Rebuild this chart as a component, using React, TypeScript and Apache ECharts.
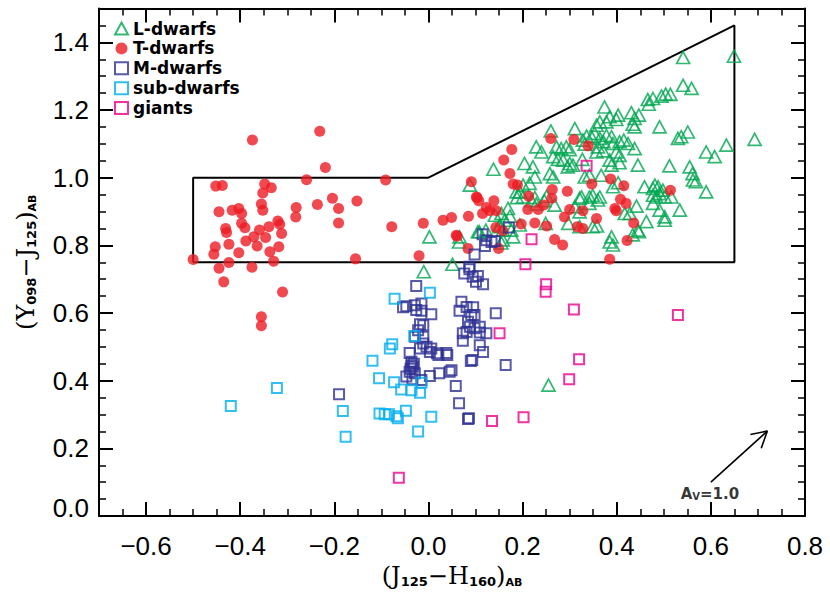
import React, { useEffect, useRef } from 'react';
import * as echarts from 'echarts';

// ---- data (J125-H160, Y098-J125) ----
const lDwarfs: number[][] = [
  [0.541,1.355],[0.649,1.359],[0.541,1.273],[0.559,1.264],
  [0.466,1.231],[0.477,1.234],[0.495,1.241],[0.504,1.247],[0.514,1.246],[0.468,1.217],
  [0.374,1.209],[0.385,1.180],[0.403,1.185],[0.399,1.172],[0.378,1.165],
  [0.431,1.192],[0.438,1.175],[0.447,1.185],[0.434,1.158],[0.438,1.150],
  [0.364,1.165],[0.357,1.155],[0.491,1.150],
  [0.537,1.121],[0.551,1.135],[0.530,1.116],
  [0.633,1.096],[0.693,1.113],[0.590,1.076],[0.608,1.062],
  [0.260,1.138],[0.311,1.145],[0.336,1.123],[0.346,1.121],[0.353,1.131],[0.328,1.111],[0.332,1.099],
  [0.364,1.116],[0.372,1.106],[0.389,1.121],[0.392,1.101],[0.378,1.125],
  [0.406,1.106],[0.415,1.111],[0.424,1.101],[0.438,1.086],
  [0.229,1.091],[0.240,1.076],[0.272,1.091],[0.282,1.086],[0.293,1.091],[0.300,1.083],
  [0.360,1.091],[0.371,1.079],[0.357,1.076],[0.399,1.076],[0.406,1.066],
  [0.204,1.042],[0.222,1.032],[0.265,1.062],[0.275,1.054],
  [0.286,1.052],[0.300,1.042],[0.296,1.032],[0.307,1.037],[0.327,1.054],
  [0.385,1.052],[0.406,1.044],[0.389,1.037],[0.445,1.037],[0.512,1.035],
  [0.555,1.032],[0.561,1.012],[0.562,0.993],[0.568,0.988],[0.590,0.958],
  [0.138,1.025],[0.258,1.012],[0.265,1.002],[0.332,1.002],[0.342,1.007],[0.367,1.007],
  [0.403,0.985],[0.392,0.973],
  [0.459,0.973],[0.477,0.968],[0.488,0.973],[0.498,0.963],[0.491,0.953],[0.502,0.943],[0.484,0.943],[0.477,0.948],
  [0.516,0.943],[0.481,0.978],
  [0.201,0.978],[0.187,0.958],[0.215,0.983],[0.226,1.002],
  [0.325,0.943],[0.349,0.948],[0.364,0.943],
  [0.194,0.958],[0.201,0.943],[0.188,0.941],
  [0.226,0.941],[0.229,0.922],[0.219,0.932],
  [0.251,0.945],[0.246,0.932],[0.268,0.919],
  [0.321,0.939],[0.342,0.943],[0.360,0.934],
  [0.311,0.914],[0.321,0.899],[0.342,0.924],
  [0.169,0.909],[0.155,0.894],[0.173,0.886],
  [0.141,0.889],[0.162,0.874],[0.151,0.860],[0.158,0.845],
  [0.297,0.865],[0.321,0.855],[0.358,0.857],[0.349,0.855],[0.249,0.865],
  [0.389,0.825],[0.392,0.801],[0.385,0.810],
  [0.447,0.840],[0.434,0.831],[0.463,0.870],[0.502,0.874],[0.445,0.845],
  [0.534,0.904],[0.502,0.884],[0.491,0.904],[0.477,0.924],[0.442,0.916],
  [0.417,0.894],[0.428,0.894],
  [0.002,0.825],[0.066,0.825],[0.065,0.810],[-0.010,0.722],[0.051,0.744],[0.088,0.978],[0.105,0.840],
  [0.108,0.840],[0.122,0.845],[0.158,0.816],[0.180,0.825],[0.151,0.855],[0.194,0.860],
  [0.155,0.807],[0.176,0.845],
  [0.255,0.387],
];

const tDwarfs: number[][] = [
  [-0.374,1.111],[-0.231,1.137],[-0.219,1.030],[-0.259,0.994],[-0.091,0.993],
  [-0.452,0.975],[-0.438,0.977],[-0.348,0.981],[-0.334,0.970],[-0.352,0.955],
  [-0.445,0.899],[-0.417,0.904],[-0.403,0.909],[-0.397,0.894],[-0.355,0.922],[-0.352,0.904],
  [-0.281,0.912],[-0.282,0.884],[-0.236,0.921],[-0.204,0.939],[-0.191,0.909],[-0.152,0.931],
  [-0.191,0.866],[-0.078,0.855],[-0.011,0.865],[0.031,0.874],[0.049,0.882],[0.085,0.886],
  [0.059,0.830],[0.084,0.791],[-0.020,0.769],[-0.155,0.760],[-0.500,0.758],[0.091,0.988],[0.102,0.943],
  [-0.431,0.850],[-0.429,0.838],[-0.397,0.865],[-0.390,0.852],[-0.359,0.845],[-0.339,0.855],
  [-0.320,0.872],[-0.316,0.862],[-0.312,0.835],[-0.346,0.823],[-0.371,0.825],[-0.388,0.813],
  [-0.424,0.803],[-0.364,0.798],[-0.453,0.796],[-0.456,0.774],[-0.403,0.778],[-0.318,0.796],
  [-0.337,0.781],[-0.329,0.753],[-0.424,0.749],[-0.445,0.732],[-0.375,0.735],[-0.435,0.692],
  [-0.310,0.662],[-0.355,0.589],[-0.355,0.562],
  [0.260,1.116],[0.309,1.113],[0.339,1.094],[0.177,1.083],[0.160,1.052],[0.173,1.012],
  [0.180,0.981],[0.189,0.978],[0.263,0.965],[0.295,0.960],[0.347,0.981],[0.387,0.996],
  [0.262,0.939],[0.213,0.945],[0.103,0.941],[0.107,0.932],[0.139,0.932],
  [0.123,0.912],[0.130,0.902],[0.144,0.902],[0.115,0.894],[0.211,0.906],[0.233,0.906],[0.245,0.919],
  [0.300,0.906],[0.328,0.902],[0.289,0.884],[0.357,0.879],[0.396,0.909],[0.399,0.902],
  [0.197,0.863],[0.226,0.866],[0.251,0.857],[0.143,0.853],[0.158,0.843],[0.316,0.855],[0.328,0.850],
  [0.061,0.827],[0.268,0.817],[0.285,0.801],[0.149,0.791],[0.385,0.759],
  [0.415,0.976],[0.514,0.963],[0.408,0.936],[0.420,0.924],[0.436,0.866],[0.422,0.814],
];

const mDwarfs: number[][] = [
  [0.171,0.853],[0.115,0.833],[0.123,0.815],[0.134,0.810],[0.141,0.813],[0.120,0.798],
  [0.098,0.773],[0.087,0.737],
  [0.087,0.729],[0.076,0.717],[0.094,0.707],[0.105,0.709],[0.101,0.692],[0.116,0.685],
  [-0.026,0.680],
  [-0.047,0.620],[-0.054,0.617],[-0.029,0.623],[-0.015,0.628],[-0.026,0.609],[-0.015,0.607],[0.006,0.596],
  [0.070,0.633],[0.066,0.607],[0.081,0.618],[0.095,0.617],[0.091,0.594],[0.098,0.594],
  [0.143,0.599],
  [-0.011,0.564],[-0.018,0.567],[-0.022,0.549],
  [0.084,0.574],[0.088,0.559],[0.109,0.559],[0.098,0.555],[0.081,0.544],[0.073,0.540],[0.109,0.542],[0.123,0.540],
  [-0.029,0.530],[-0.011,0.530],[-0.011,0.510],[-0.004,0.500],[-0.018,0.495],[0.006,0.495],[0.018,0.481],[0.003,0.485],
  [0.073,0.518],[0.109,0.505],[0.116,0.485],
  [-0.040,0.482],[-0.036,0.456],[-0.033,0.441],[-0.040,0.426],[-0.029,0.422],[-0.047,0.412],[-0.034,0.404],
  [-0.036,0.445],[-0.038,0.435],[-0.031,0.450],
  [0.038,0.482],[0.040,0.476],[0.021,0.476],[0.049,0.431],[0.045,0.426],[0.023,0.422],[0.003,0.414],[-0.015,0.402],
  [0.093,0.461],[0.090,0.458],[0.164,0.446],[0.058,0.384],[0.065,0.333],[0.086,0.289],[0.084,0.287],[-0.190,0.360],
];

const subDwarfs: number[][] = [
  [0.003,0.660],[-0.072,0.642],[-0.030,0.532],[-0.077,0.508],[-0.082,0.495],[-0.119,0.459],
  [-0.105,0.407],[-0.073,0.395],[-0.058,0.374],[-0.036,0.372],[-0.015,0.394],[-0.018,0.364],
  [-0.048,0.311],[-0.182,0.310],[-0.104,0.303],[-0.093,0.301],[-0.084,0.301],[-0.068,0.295],
  [-0.065,0.289],[0.006,0.293],[-0.022,0.250],[-0.176,0.234],[-0.322,0.378],[-0.420,0.325],
];

const giants: number[][] = [
  [0.336,1.035],[0.219,0.818],[0.206,0.744],[0.250,0.685],[0.249,0.663],[0.309,0.610],
  [0.530,0.594],[0.151,0.540],[0.320,0.463],[0.299,0.404],[0.135,0.281],[0.202,0.292],[-0.063,0.113],
];

// selection box
const boxX = [-0.5, -0.5, 0.0, 0.65, 0.65, -0.5];
const boxY = [0.75, 1.0, 1.0, 1.45, 0.75, 0.75];

// reddening vector A_V = 1.0
const arrowShaft = [[0.6, 0.1], [0.72, 0.251]];
const arrowHead = [[0.684, 0.241], [0.72, 0.251], [0.707, 0.2]];
const arrowLabelPos = [0.598, 0.068];

const xTicks = [-0.6, -0.4, -0.2, 0, 0.2, 0.4, 0.6, 0.8];
const yTicks = [0, 0.2, 0.4, 0.6, 0.8, 1.0, 1.2, 1.4];

const names = ['L-dwarfs', 'T-dwarfs', 'M-dwarfs', 'sub-dwarfs', 'giants'];
const colors = ['#00A651', '#ED1C24', '#2E3192', '#00AEEF', '#EC008C'];

const TICK_FONT = 'Liberation Sans';
const fmt = (v: number) => (v < 0 ? '\u2212' + Math.abs(v).toFixed(1) : v.toFixed(1));

const titleRich = {
  m: { fontFamily: 'DejaVu Serif', fontSize: 24, lineHeight: 28, verticalAlign: 'bottom', color: '#000' },
  s: { fontFamily: 'DejaVu Sans', fontWeight: 'bold', fontSize: 13, lineHeight: 13, verticalAlign: 'bottom', color: '#000' },
  a: { fontFamily: 'DejaVu Sans', fontWeight: 'bold', fontSize: 11, lineHeight: 11, verticalAlign: 'bottom', color: '#000' },
};

const black = '#000';
const lineW = 2;

function majorX(pos: 'bottom' | 'top', main: boolean) {
  return {
    type: 'value', position: pos, min: -0.7, max: 0.8,
    splitLine: { show: false },
    axisLine: { show: true, onZero: false, lineStyle: { color: black, width: lineW } },
    axisTick: { show: true, inside: true, length: 14, customValues: xTicks, lineStyle: { color: black, width: lineW } },
    axisLabel: main
      ? { show: true, customValues: xTicks, formatter: fmt, fontFamily: TICK_FONT, fontSize: 26, color: black, margin: 17 }
      : { show: false },
    ...(main
      ? {
          name: '{m|(J}{s|125}{m|\u2212H}{s|160}{m|)}{a|AB}',
          nameLocation: 'middle', nameGap: 42,
          nameTextStyle: { rich: titleRich },
        }
      : {}),
  };
}
function minorX(pos: 'bottom' | 'top') {
  return {
    type: 'value', position: pos, min: -0.7, max: 0.8, interval: 0.05,
    splitLine: { show: false },
    axisLine: { show: false, onZero: false },
    axisTick: { show: true, inside: true, length: 7, lineStyle: { color: black, width: 1.5 } },
    axisLabel: { show: false },
  };
}
function majorY(pos: 'left' | 'right', main: boolean) {
  return {
    type: 'value', position: pos, min: 0, max: 1.5,
    splitLine: { show: false },
    axisLine: { show: true, onZero: false, lineStyle: { color: black, width: lineW } },
    axisTick: { show: true, inside: true, length: 14, customValues: yTicks, lineStyle: { color: black, width: lineW } },
    axisLabel: main
      ? {
          show: true, customValues: yTicks,
          formatter: (v: number) => (v === 0 ? '{z|0.0}' : fmt(v)),
          fontFamily: TICK_FONT, fontSize: 26, color: black, margin: 10,
          rich: { z: { fontFamily: TICK_FONT, fontSize: 26, color: black, padding: [0, 0, 16, 0] } },
        }
      : { show: false },
    ...(main
      ? {
          name: '{m|(Y}{s|098}{m|\u2212J}{s|125}{m|)}{a|AB}',
          nameLocation: 'middle', nameGap: 61, nameRotate: 90,
          nameTextStyle: { rich: titleRich },
        }
      : {}),
  };
}
function minorY(pos: 'left' | 'right') {
  return {
    type: 'value', position: pos, min: 0, max: 1.5, interval: 0.05,
    splitLine: { show: false },
    axisLine: { show: false, onZero: false },
    axisTick: { show: true, inside: true, length: 7, lineStyle: { color: black, width: 1.5 } },
    axisLabel: { show: false },
  };
}

const hollow = (c: string) => ({ color: 'transparent', borderColor: c, borderWidth: 2 });

export default function App() {
  const ref = useRef<HTMLDivElement>(null);
  useEffect(() => {
    const chart = echarts.init(ref.current!, null, { renderer: 'svg' });
    const option: any = {
      animation: false,
      backgroundColor: '#fff',
      grid: { left: 99, right: 25, top: 8.5, bottom: 77, containLabel: false },
      legend: {
        data: names,
        orient: 'vertical',
        left: 114, top: 20, padding: 0,
        itemWidth: 13, itemHeight: 12, itemGap: 2.9,
        selectedMode: false,
        textStyle: { fontFamily: 'DejaVu Sans', fontWeight: 'bold', fontSize: 17, lineHeight: 16, color: black },
      },
      xAxis: [majorX('bottom', true), minorX('bottom'), majorX('top', false), minorX('top')],
      yAxis: [majorY('left', true), minorY('left'), majorY('right', false), minorY('right')],
      series: [
        {
          type: 'line', name: 'box', data: boxX.map((x, i) => [x, boxY[i]]),
          symbol: 'none', silent: true, lineStyle: { color: black, width: 2 }, z: 1,
        },
        {
          type: 'scatter', name: names[0], data: lDwarfs, symbol: 'triangle', symbolSize: [13, 12],
          itemStyle: { color: 'transparent', borderColor: colors[0], borderWidth: 1.7 }, z: 2,
        },
        {
          type: 'scatter', name: names[1], data: tDwarfs, symbol: 'circle', symbolSize: 11,
          itemStyle: { color: colors[1] }, z: 3,
        },
        {
          type: 'scatter', name: names[2], data: mDwarfs, symbol: 'rect', symbolSize: 10,
          itemStyle: hollow(colors[2]), z: 4,
        },
        {
          type: 'scatter', name: names[3], data: subDwarfs, symbol: 'rect', symbolSize: 10,
          itemStyle: hollow(colors[3]), z: 5,
        },
        {
          type: 'scatter', name: names[4], data: giants, symbol: 'rect', symbolSize: 10,
          itemStyle: hollow(colors[4]), z: 6,
        },
        {
          type: 'line', name: 'arrow', data: arrowShaft, symbol: 'none', silent: true,
          lineStyle: { color: black, width: 1.6 }, z: 7,
        },
        {
          type: 'line', name: 'arrowhead', data: arrowHead, symbol: 'none', silent: true,
          lineStyle: { color: black, width: 1.6 }, z: 7,
        },
        {
          type: 'scatter', name: 'avlabel', data: [arrowLabelPos], symbolSize: 1, silent: true,
          itemStyle: { color: 'transparent' },
          label: {
            show: true, position: 'inside',
            formatter: '{a|A}{v|V}{a|=1.0}',
            rich: {
              a: { fontFamily: 'DejaVu Sans', fontWeight: 'bold', fontSize: 15, lineHeight: 18, verticalAlign: 'bottom', color: black },
              v: { fontFamily: 'DejaVu Sans', fontWeight: 'bold', fontSize: 10, lineHeight: 10, verticalAlign: 'bottom', color: black },
            },
          },
          z: 8,
        },
      ],
    };
    chart.setOption(option);
    return () => chart.dispose();
  }, []);
  return <div ref={ref} style={{ position: 'absolute', left: 0, top: 0, width: 830, height: 593 }} />;
}
